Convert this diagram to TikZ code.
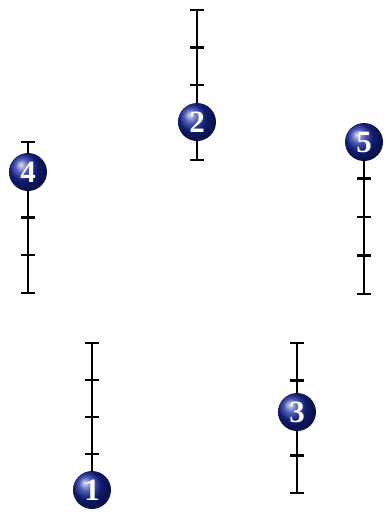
\documentclass[tikz,border=0pt]{standalone}
\usepackage{fontspec}
\setmainfont{Liberation Serif}
\usetikzlibrary{shadings,calc}
\definecolor{ballblue}{RGB}{22,40,160}
\tikzset{
  rulerline/.style={line width=2.8pt, black},
  tickline/.style={line width=2.4pt, black},
  ballnode/.style={circle, minimum size=38pt, inner sep=0pt, shading=ball, ball color=ballblue,
     text=white, font=\fontsize{31}{31}\selectfont\bfseries},
}
\newcommand{\myruler}[4]{% name, x, top y, bottom y
  \coordinate (#1t) at (#2,#3);
  \coordinate (#1b) at (#2,#4);
  \draw[rulerline] (#1t) -- (#1b);
  \foreach \k in {0,1,2,3,4}{
    \draw[tickline] ($(#1t)!\k/4!(#1b)+(-7,0)$) -- ($(#1t)!\k/4!(#1b)+(7,0)$);
  }
}
\begin{document}
\begin{tikzpicture}[x=1pt,y=-1pt]
\useasboundingbox (0,0) rectangle (386,512);
\myruler{rb}{197}{10}{160}
\myruler{rd}{28}{142}{293}
\myruler{re}{364}{140}{294}
\myruler{ra}{92}{343}{491}
\myruler{rc}{297}{343}{493}
\node[ballnode] (b2) at (197,122) {2};
\node[ballnode] (b4) at (28,172) {4};
\node[ballnode] (b5) at (364,142) {5};
\node[ballnode] (b1) at (92,490) {1};
\node[ballnode] (b3) at (297,412) {3};
\end{tikzpicture}
\end{document}
